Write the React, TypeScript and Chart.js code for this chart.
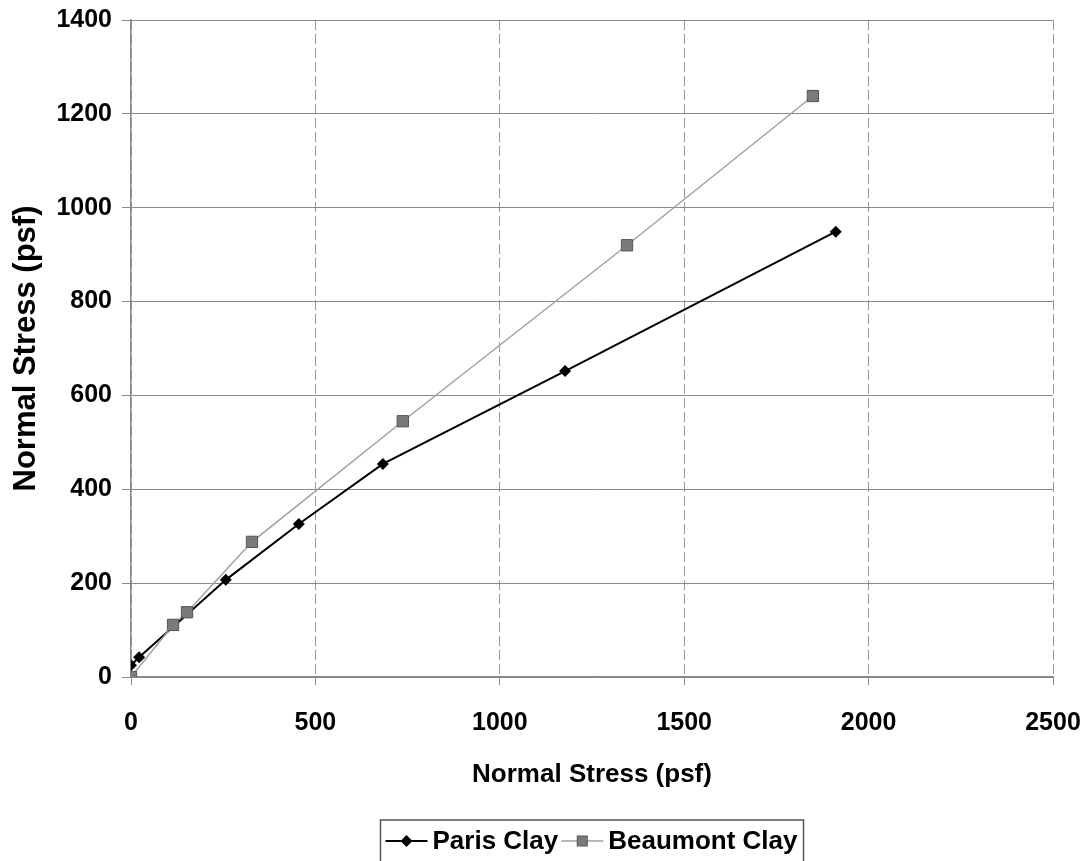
import React, { useEffect, useRef } from "react";
import { Chart, registerables } from "chart.js";

Chart.register(...registerables);

const parisX = [0, 22, 257, 455, 683, 1177, 1911];
const parisY = [25, 42, 207, 326, 454, 652, 949];
const beaumontX = [0, 114, 152, 328, 737, 1345, 1849];
const beaumontY = [0, 111, 138, 288, 545, 920, 1238];
const xTicks = [0, 500, 1000, 1500, 2000, 2500];
const yTicks = [0, 200, 400, 600, 800, 1000, 1200, 1400];
const seriesLabels = ["Paris Clay", "Beaumont Clay"];
const xTitle = "Normal Stress (psf)";
const yTitle = "Normal Stress (psf)";

const FONT = '"Liberation Sans", Arial, sans-serif';

function drawMarker(ctx: CanvasRenderingContext2D, style: string, x: number, y: number) {
  ctx.save();
  if (style === "rectRot") {
    const r = 6;
    ctx.beginPath();
    ctx.moveTo(x - r, y);
    ctx.lineTo(x, y - r);
    ctx.lineTo(x + r, y);
    ctx.lineTo(x, y + r);
    ctx.closePath();
    ctx.fillStyle = "#000";
    ctx.fill();
  } else {
    const s = 5;
    ctx.fillStyle = "#7a7a7a";
    ctx.strokeStyle = "#555";
    ctx.lineWidth = 1;
    ctx.fillRect(x - s, y - s, 2 * s, 2 * s);
    ctx.strokeRect(x - s, y - s, 2 * s, 2 * s);
  }
  ctx.restore();
}

const boxLegend = {
  id: "boxLegend",
  afterDraw(chart: any) {
    const ctx: CanvasRenderingContext2D = chart.ctx;
    const area = chart.chartArea;
    ctx.save();
    ctx.font = `bold 26px ${FONT}`;
    const ds = chart.data.datasets;
    const items = ds.map((d: any) => ({ d, w: ctx.measureText(d.label).width }));
    const lineW = 42, gap = 5, itemGap = 3, padL = 5, padR = 6;
    const total =
      padL + items.reduce((s: number, it: any) => s + lineW + gap + it.w, 0) + itemGap * (items.length - 1) + padR;
    const cx = (area.left + area.right) / 2;
    let x = cx - total / 2;
    const top = 820;
    const cy = 841;
    ctx.strokeStyle = "#555";
    ctx.lineWidth = 1.5;
    ctx.strokeRect(x, top, total, 60);
    x += padL;
    items.forEach((it: any) => {
      ctx.beginPath();
      ctx.moveTo(x, cy);
      ctx.lineTo(x + lineW, cy);
      ctx.strokeStyle = it.d.borderColor;
      ctx.lineWidth = it.d.borderWidth;
      ctx.stroke();
      drawMarker(ctx, it.d.pointStyle, x + lineW / 2, cy);
      x += lineW + gap;
      ctx.fillStyle = "#000";
      ctx.textAlign = "left";
      ctx.textBaseline = "middle";
      ctx.fillText(it.d.label, x, cy + 1);
      x += it.w + itemGap;
    });
    ctx.restore();
  },
};

export default function App() {
  const ref = useRef<HTMLCanvasElement | null>(null);

  useEffect(() => {
    document.body.style.margin = "0";
    document.body.style.overflow = "hidden";
    const canvas = ref.current;
    if (!canvas) return;
    const chart = new Chart(canvas, {
      type: "scatter",
      data: {
        datasets: [
          {
            label: seriesLabels[0],
            data: parisX.map((x, i) => ({ x, y: parisY[i] })),
            showLine: true,
            borderColor: "#000",
            backgroundColor: "#000",
            borderWidth: 2,
            pointStyle: "rectRot",
            pointRadius: 6,
            pointBorderWidth: 0,
            order: 1,
          },
          {
            label: seriesLabels[1],
            data: beaumontX.map((x, i) => ({ x, y: beaumontY[i] })),
            showLine: true,
            borderColor: "#a0a0a0",
            backgroundColor: "#7a7a7a",
            pointBorderColor: "#555",
            borderWidth: 1.5,
            pointStyle: "rect",
            pointRadius: 8,
            pointBorderWidth: 1,
            order: 0,
          },
        ] as any,
      },
      options: {
        responsive: false,
        animation: false,
        layout: { padding: { left: 0, top: 20, right: 39, bottom: 0 } },
        plugins: { legend: { display: false }, tooltip: { enabled: false } },
        scales: {
          x: {
            type: "linear",
            min: 0,
            max: 2500,
            afterFit: (s: any) => {
              s.height = 861 - 677;
              s.paddingLeft = 0;
              s.paddingRight = 0;
            },
            afterBuildTicks: (s: any) => {
              s.ticks = xTicks.map((v) => ({ value: v }));
            },
            ticks: {
              color: "#000",
              padding: 23,
              callback: (v: any) => String(v),
              font: { family: FONT, size: 25, weight: "bold" },
            },
            grid: { color: "#9a9a9a", lineWidth: 1, tickLength: 8, tickColor: "#888" },
            border: { color: "#888", width: 1.5, dash: [10, 4] },
            title: {
              display: true,
              text: xTitle,
              color: "#000",
              font: { family: FONT, size: 26, weight: "bold", lineHeight: 1 },
              padding: { top: 0, bottom: 73 },
            },
          },
          y: {
            type: "linear",
            min: 0,
            max: 1400,
            afterFit: (s: any) => {
              s.width = 131;
              s.paddingTop = 0;
              s.paddingBottom = 0;
            },
            afterBuildTicks: (s: any) => {
              s.ticks = yTicks.map((v) => ({ value: v }));
            },
            ticks: {
              color: "#000",
              padding: 10,
              callback: (v: any) => String(v),
              font: { family: FONT, size: 25, weight: "bold" },
            },
            grid: { color: "#8a8a8a", lineWidth: 1, tickLength: 9, tickColor: "#888" },
            border: { color: "#888", width: 1.5 },
            title: {
              display: true,
              text: yTitle,
              color: "#000",
              font: { family: FONT, size: 31, weight: "bold", lineHeight: 1 },
              padding: { top: 11, bottom: 0 },
            },
          },
        },
      } as any,
      plugins: [boxLegend],
    });
    return () => chart.destroy();
  }, []);

  return (
    <div style={{ width: 1092, height: 861, background: "#fff" }}>
      <canvas ref={ref} width={1092} height={861} style={{ display: "block" }} />
    </div>
  );
}
